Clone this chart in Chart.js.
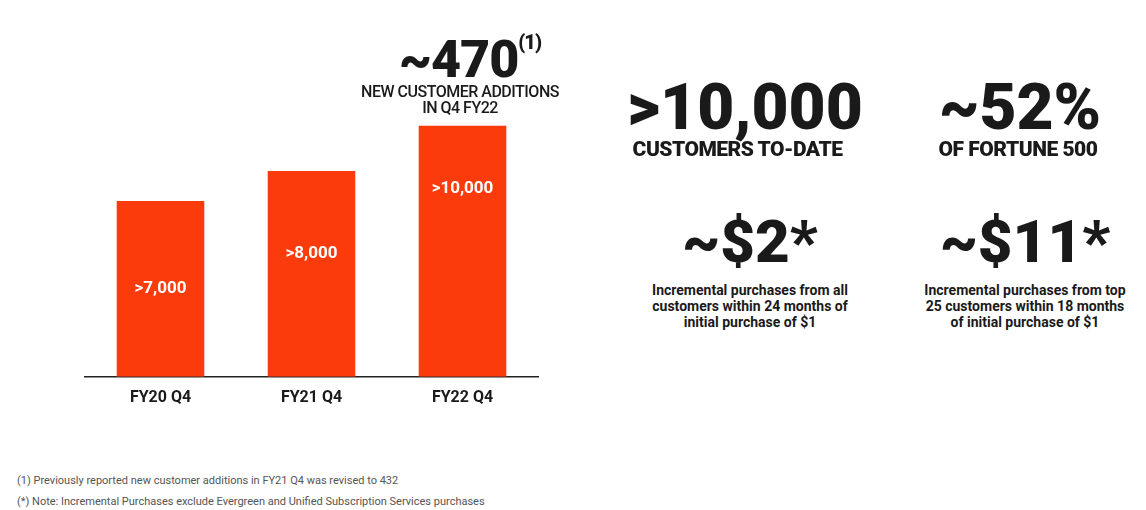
<!DOCTYPE html>
<html><head><meta charset="utf-8">
<script src="https://cdn.jsdelivr.net/npm/chart.js@4"></script>
<style>
body{margin:0;width:1146px;height:510px;background:#fff;font-family:Roboto,"Liberation Sans",sans-serif;position:relative;overflow:hidden;color:#1a1a1a}
#wrap{position:absolute;left:0;top:0;width:560px;height:420px}
.t{position:absolute;text-align:center;font-weight:900;line-height:1}
.s{position:absolute;text-align:center;font-weight:700;font-size:14px;line-height:16px}
.f{position:absolute;left:17px;font-size:11px;color:#555}
</style></head><body>
<div id="wrap"><canvas id="c"></canvas></div>
<div class="t" style="left:360px;width:220px;top:32px;font-size:52px;letter-spacing:-1px">~470<sup style="font-size:20px;vertical-align:28px">(1)</sup></div>
<div class="s" style="left:330px;width:260px;top:84px;font-size:16px;font-weight:500;line-height:16px;letter-spacing:-0.5px">NEW CUSTOMER ADDITIONS<br>IN Q4 FY22</div>
<div class="t" style="left:600px;width:290px;top:76px;font-size:64px">&gt;10,000</div>
<div class="t" style="left:600px;width:275px;top:139px;font-size:21px;letter-spacing:-0.5px">CUSTOMERS TO-DATE</div>
<div class="t" style="left:910px;width:220px;top:76px;font-size:64px">~52%</div>
<div class="t" style="left:908px;width:220px;top:139px;font-size:21px;letter-spacing:-0.5px">OF FORTUNE 500</div>
<div class="t" style="left:610px;width:280px;top:212px;font-size:60px">~$2*</div>
<div class="s" style="left:610px;width:280px;top:282px">Incremental purchases from all<br>customers within 24 months of<br>initial purchase of $1</div>
<div class="t" style="left:890px;width:270px;top:212px;font-size:60px">~$11*</div>
<div class="s" style="left:890px;width:270px;top:282px">Incremental purchases from top<br>25 customers within 18 months<br>of initial purchase of $1</div>
<div class="f" style="top:474px">(1) Previously reported new customer additions in FY21 Q4 was revised to 432</div>
<div class="f" style="top:495px">(*) Note: Incremental Purchases exclude Evergreen and Unified Subscription Services purchases</div>
<script>
const categories=["FY20 Q4","FY21 Q4","FY22 Q4"];
const customers=[7000,8200,10000];
const barLabels=[">7,000",">8,000",">10,000"];
const labelPlugin={id:"lbl",afterDatasetsDraw(ch){const c=ch.ctx;c.save();c.fillStyle="#fff";c.font="bold 17px Roboto";c.textAlign="center";c.textBaseline="middle";
ch.getDatasetMeta(0).data.forEach((b,i)=>{c.fillText(barLabels[i],b.x,b.y+(b.base-b.y)*[0.5,0.4,0.25][i]);});c.restore();}};
new Chart(document.getElementById("c"),{type:"bar",data:{labels:categories,datasets:[{data:customers,backgroundColor:"#fc3b0c",barPercentage:0.58,categoryPercentage:1}]},
options:{responsive:true,maintainAspectRatio:false,animation:false,layout:{padding:{left:85,right:22,top:75.6,bottom:0}},
plugins:{legend:{display:false},tooltip:{enabled:false}},
scales:{y:{display:false,min:0,max:12000},x:{grid:{display:false,drawTicks:false},border:{color:"#222",width:1.5},ticks:{color:"#1a1a1a",font:{size:16,weight:"bold",family:"Roboto"},padding:12}}}},plugins:[labelPlugin]});
</script></body></html>
